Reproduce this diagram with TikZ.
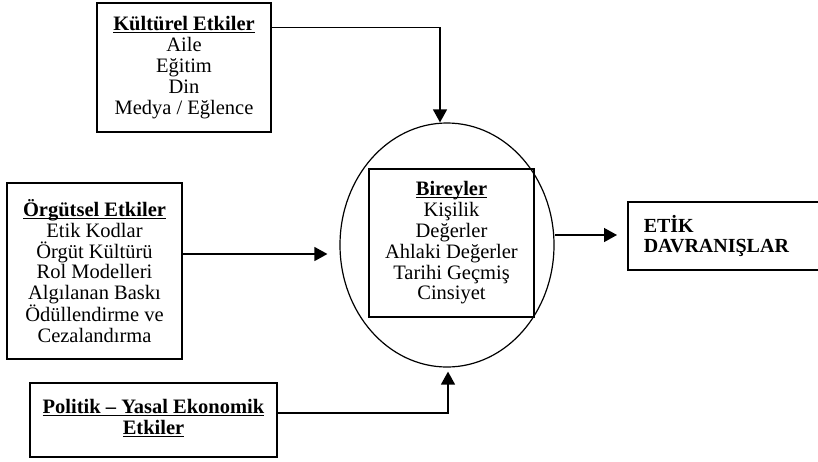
\documentclass[tikz,border=0pt]{standalone}
\usepackage{fontspec}
\setmainfont{Liberation Serif}
\usetikzlibrary{shapes.geometric,arrows.meta}
\newcommand\altcizgi[1]{\underline{\setbox0\hbox{\textbf{#1}}\dp0=0pt\box0}}
\tikzset{
  kutu/.style={draw,line width=1.5pt,align=center,inner sep=0pt,font=\fontsize{20.5}{20.8}\selectfont},
  ok/.style={-{Triangle[length=13pt,width=14pt]},line width=1.4pt},
}
\begin{document}
\begin{tikzpicture}[x=1pt,y=-1pt]
\useasboundingbox (0,0) rectangle (818,461);
% Bireyler
\node[ellipse,draw,line width=1.2pt,minimum width=214pt,minimum height=244pt,inner sep=0pt] (elips) at (447,245) {};
\node[kutu,minimum width=165pt,minimum height=148pt] (birey) at (451.5,243)
  {\altcizgi{Bireyler}\\Kişilik\\Değerler\\Ahlaki Değerler\\Tarihi Geçmiş\\Cinsiyet};

% Etkiler
\node[kutu,minimum width=174pt,minimum height=129pt] (kultur) at (184,67.5)
  {\altcizgi{Kültürel Etkiler}\\Aile\\Eğitim\\Din\\Medya / Eğlence};
\node[kutu,minimum width=175pt,minimum height=176pt] (orgut) at (94.5,271)
  {\altcizgi{Örgütsel Etkiler}\\Etik Kodlar\\Örgüt Kültürü\\Rol Modelleri\\Algılanan Baskı\\Ödüllendirme ve\\Cezalandırma};
\node[kutu,minimum width=247pt,minimum height=74pt] (politik) at (153.5,420)
  {\raisebox{6pt}{\begin{tabular}{@{}c@{}}\altcizgi{Politik – Yasal Ekonomik}\\\altcizgi{Etkiler}\end{tabular}}};

% Sonuc
\node[kutu,anchor=west,align=left,text width=172pt,inner xsep=16pt,minimum height=68pt,
  font=\fontsize{20}{20.8}\selectfont\bfseries] (etik) at (627,236) {ETİK\\DAVRANIŞLAR};

% Oklar
\coordinate (k1) at ([yshift=-25pt]kultur.north east);
\draw[ok] (k1) -| ([xshift=-7pt]elips.north);
\coordinate (o1) at ([yshift=17pt]orgut.east);
\draw[ok,shorten >=12pt] (o1) -- (o1 -| elips.west);
\coordinate (p1) at ([yshift=7pt]politik.east);
\draw[ok,shorten >=4pt] (p1) -| ([xshift=1pt]elips.south);
\coordinate (e1) at ([yshift=10pt]elips.east);
\draw[ok,shorten >=10pt] (e1) -- (e1 -| etik.west);

\end{tikzpicture}
\end{document}
